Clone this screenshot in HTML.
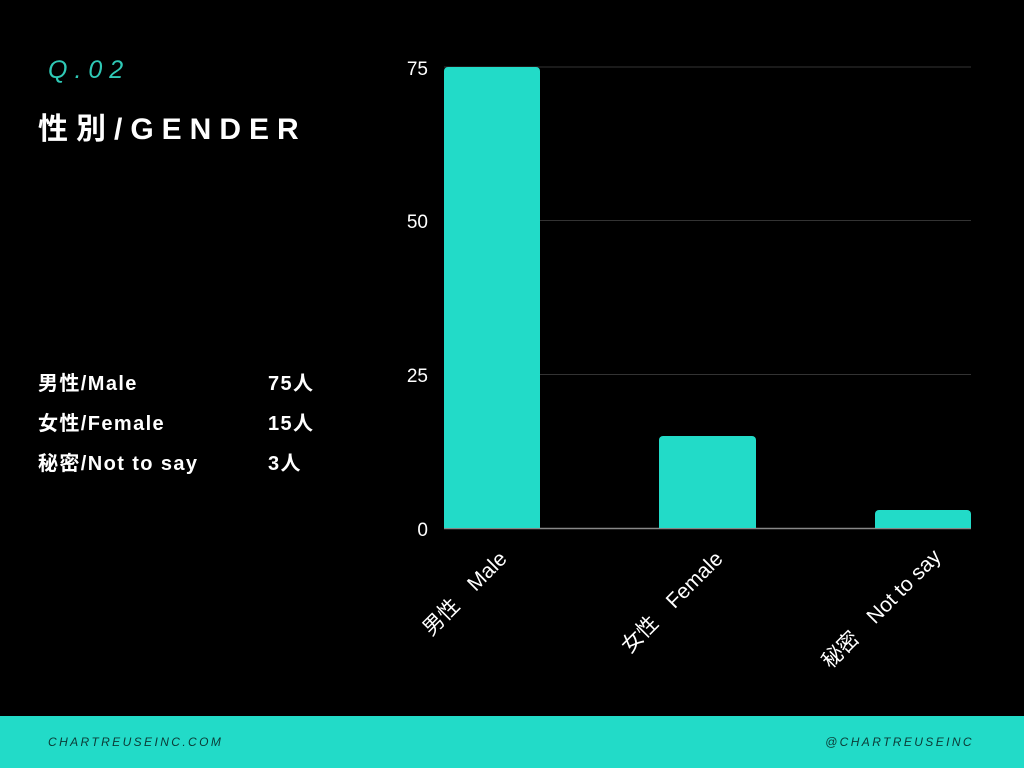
<!DOCTYPE html>
<html><head><meta charset="utf-8"><style>
body{margin:0;width:1024px;height:768px;background:#000;overflow:hidden;position:relative;font-family:"Liberation Sans","Noto Sans CJK JP",sans-serif;}
.t{position:absolute;white-space:nowrap;}
.l{font-size:20px;color:#fff;font-weight:bold;letter-spacing:1.4px;}
</style></head><body>
<div class="t" style="left:48px;top:56px;font-size:25px;color:#2fc9b6;letter-spacing:7px;font-style:italic;">Q.02</div>
<div class="t" style="left:38px;top:104px;font-size:30px;color:#fff;font-weight:bold;letter-spacing:8px;">性別/GENDER</div>
<div class="t l" style="left:38px;top:367px;">男性/Male</div>
<div class="t l" style="left:38px;top:407px;">女性/Female</div>
<div class="t l" style="left:38px;top:447px;">秘密/Not to say</div>
<div class="t l" style="left:268px;top:367px;">75人</div>
<div class="t l" style="left:268px;top:407px;">15人</div>
<div class="t l" style="left:268px;top:447px;">3人</div>
<svg width="1024" height="768" style="position:absolute;left:0;top:0">
<g stroke="#333" stroke-width="1">
<line x1="444" y1="67" x2="971" y2="67"/><line x1="444" y1="220.5" x2="971" y2="220.5"/><line x1="444" y1="374.5" x2="971" y2="374.5"/>
</g>
<line x1="444" y1="528.5" x2="971" y2="528.5" stroke="#888" stroke-width="1.5"/>
<g fill="#22dbc8">
<path d="M444 528V71a4 4 0 0 1 4-4h88a4 4 0 0 1 4 4V528z"/>
<path d="M659 528V440a4 4 0 0 1 4-4h89a4 4 0 0 1 4 4V528z"/>
<path d="M875 528V514a4 4 0 0 1 4-4h88a4 4 0 0 1 4 4V528z"/>
</g>
<g fill="#fff" font-size="19" text-anchor="end" font-family="Liberation Sans, Noto Sans CJK JP, sans-serif">
<text x="428" y="75">75</text><text x="428" y="228">50</text><text x="428" y="382">25</text><text x="428" y="536">0</text>
</g>
<g fill="#fff" font-size="21" text-anchor="end" font-family="Liberation Sans, Noto Sans CJK JP, sans-serif">
<text transform="translate(508,560) rotate(-45)">男性　Male</text>
<text transform="translate(724,560) rotate(-45)">女性　Female</text>
<text transform="translate(942,558) rotate(-45)">秘密　Not to say</text>
</g>
</svg>
<div style="position:absolute;left:0;top:716px;width:1024px;height:52px;background:#22dbc8;"></div>
<div class="t" style="left:48px;top:735px;font-size:12px;color:#0b3a36;letter-spacing:2.4px;font-style:italic;">CHARTREUSEINC.COM</div>
<div class="t" style="right:50px;top:735px;font-size:12px;color:#0b3a36;letter-spacing:2.4px;font-style:italic;">@CHARTREUSEINC</div>
</body></html>
